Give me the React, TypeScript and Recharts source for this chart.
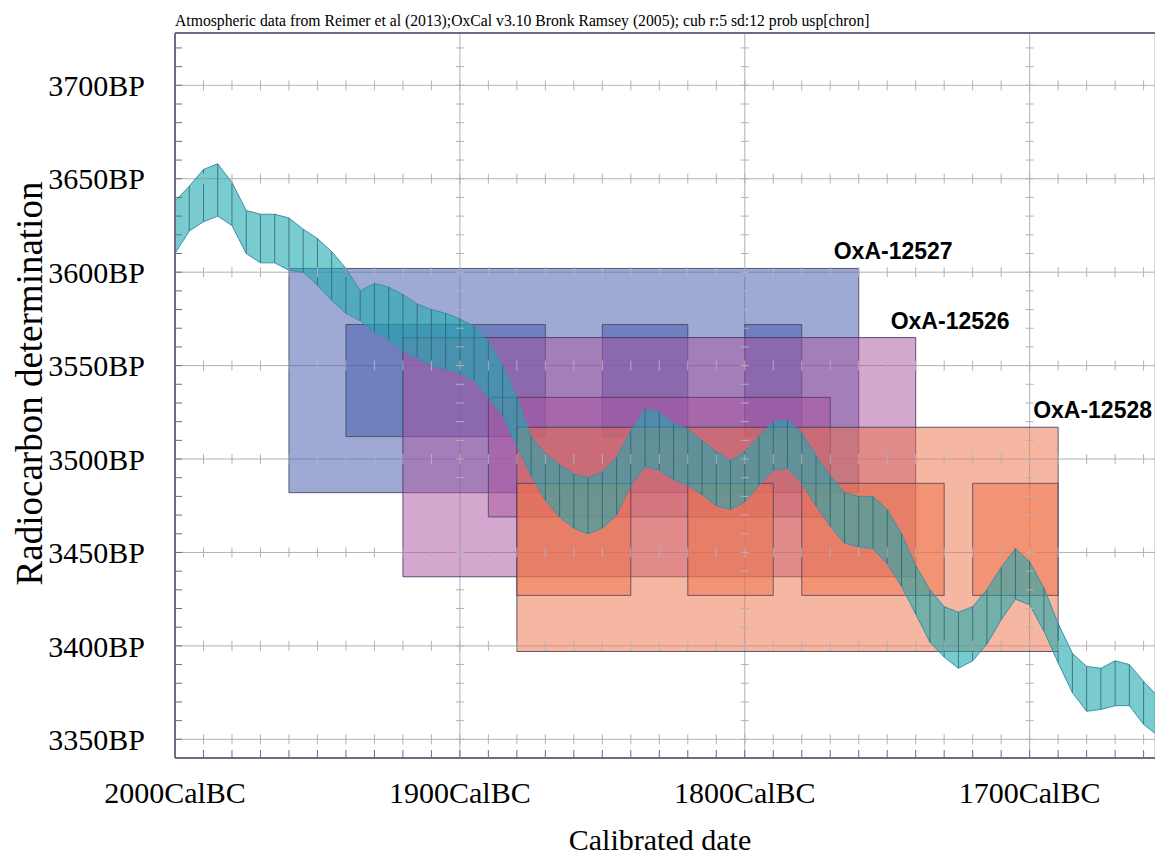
import { ComposedChart, Area, XAxis, YAxis, CartesianGrid, ReferenceArea, ReferenceLine, Scatter } from 'recharts'

const SERIF = "'Liberation Serif', 'Times New Roman', serif"
const SANS = "'Liberation Sans', Arial, sans-serif"

const TITLE = 'Atmospheric data from Reimer et al (2013);OxCal v3.10 Bronk Ramsey (2005); cub r:5 sd:12 prob usp[chron]'

// calibration curve, 5-year steps (cal BC), upper and lower edge in BP
const YEARS = [
  2000, 1995, 1990, 1985, 1980, 1975, 1970, 1965, 1960, 1955, 1950, 1945, 1940, 1935, 1930, 1925, 1920, 1915,
  1910, 1905, 1900, 1895, 1890, 1885, 1880, 1875, 1870, 1865, 1860, 1855, 1850, 1845, 1840, 1835, 1830, 1825,
  1820, 1815, 1810, 1805, 1800, 1795, 1790, 1785, 1780, 1775, 1770, 1765, 1760, 1755, 1750, 1745, 1740, 1735,
  1730, 1725, 1720, 1715, 1710, 1705, 1700, 1695, 1690, 1685, 1680, 1675, 1670, 1665, 1660, 1655,
]
const BAND_HI = [
  3638, 3646, 3655, 3658, 3648, 3633, 3631, 3631, 3629, 3623, 3618, 3611, 3602, 3590, 3594, 3592, 3588, 3583,
  3580, 3578, 3575, 3571, 3563, 3550, 3533, 3512, 3503, 3497, 3492, 3490, 3493, 3501, 3515, 3527, 3525, 3519,
  3516, 3510, 3504, 3499, 3504, 3512, 3520, 3521, 3514, 3502, 3491, 3482, 3480, 3480, 3473, 3460, 3443, 3430,
  3421, 3418, 3421, 3430, 3442, 3452, 3445, 3431, 3412, 3396, 3389, 3388, 3392, 3390, 3381, 3373,
]
const BAND_LO = [
  3610, 3622, 3627, 3630, 3625, 3610, 3605, 3605, 3601, 3600, 3593, 3585, 3578, 3574, 3568, 3564, 3558, 3554,
  3550, 3548, 3546, 3542, 3533, 3523, 3507, 3491, 3478, 3469, 3463, 3460, 3463, 3470, 3486, 3496, 3494, 3489,
  3486, 3481, 3475, 3473, 3477, 3486, 3494, 3495, 3487, 3475, 3464, 3455, 3453, 3452, 3444, 3432, 3417, 3402,
  3394, 3388, 3392, 3401, 3414, 3425, 3422, 3408, 3391, 3375, 3365, 3366, 3368, 3368, 3358, 3352,
]

// samples: 2 sigma boxes and 1 sigma boxes
const SAMPLE_NAMES = ['OxA-12527', 'OxA-12526', 'OxA-12528']
const SAMPLE_COLORS = ['#4055aa', '#a9519d', '#ed6f45']
const OUTER_BP = [[3482, 3602], [3437, 3565], [3397, 3517]]
const OUTER_CAL = [[1960, 1760], [1920, 1740], [1880, 1690]]
const INNER_BP = [[3512, 3572], [3469, 3533], [3427, 3487]]
const INNER_CAL = [
  [[1940, 1870], [1850, 1820], [1800, 1780]],
  [[1890, 1770]],
  [[1880, 1840], [1820, 1790], [1780, 1730], [1720, 1690]],
]

const X_MIN = 1656
const X_MAX = 2000
const Y_MIN = 3340
const Y_MAX = 3728
const X_TICKS = [2000, 1900, 1800, 1700]
const Y_TICKS = [3350, 3400, 3450, 3500, 3550, 3600, 3650, 3700]
const MINOR_YEARS = [
  1990, 1980, 1970, 1960, 1950, 1940, 1930, 1920, 1910, 1900, 1890, 1880, 1870, 1860, 1850, 1840, 1830,
  1820, 1810, 1800, 1790, 1780, 1770, 1760, 1750, 1740, 1730, 1720, 1710, 1700, 1690, 1680, 1670, 1660,
]
const MINOR_BP = [
  3350, 3360, 3370, 3380, 3390, 3400, 3410, 3420, 3430, 3440, 3450, 3460, 3470, 3480, 3490, 3500, 3510,
  3520, 3530, 3540, 3550, 3560, 3570, 3580, 3590, 3600, 3610, 3620, 3630, 3640, 3650, 3660, 3670, 3680,
  3690, 3700, 3710, 3720,
]

const bandData = YEARS.map((year, i) => ({ year, band: [BAND_LO[i], BAND_HI[i]] }))
const hGridMarks = Y_TICKS.flatMap(bp => MINOR_YEARS.map(year => ({ year, bp })))
const vGridMarks = X_TICKS.slice(1).flatMap(year => MINOR_BP.map(bp => ({ year, bp })))
const leftMarks = MINOR_BP.map(bp => ({ year: X_MAX, bp }))
const bottomMarks = MINOR_YEARS.map(year => ({ year, bp: Y_MIN }))

const GRID = '#b2b2b8'
const FRAME = '#6f6a86'

const mark = (dx1: number, dx2: number, dy1: number, dy2: number, color: string) => (p: any) => (
  <line x1={p.cx + dx1} x2={p.cx + dx2} y1={p.cy + dy1} y2={p.cy + dy2} stroke={color} strokeWidth={1} />
)

const boxLabel = (name: string) => (p: any) => {
  const vb = p.viewBox
  if (!vb) return null
  return (
    <text x={vb.x + vb.width - 25} y={vb.y - 9} fontFamily={SANS} fontWeight="bold" fontSize={23} fill="#000">
      {name}
    </text>
  )
}

// rotated y axis title
const yTitle = (p: any) => {
  const vb = p.viewBox
  if (!vb) return null
  const cx = vb.x + 29
  const cy = vb.y + vb.height / 2 - 12
  return (
    <text
      x={cx}
      y={cy}
      dy="0.35em"
      transform={`rotate(-90 ${cx} ${cy})`}
      textAnchor="middle"
      fontFamily={SERIF}
      fontSize={37}
      fill="#000"
    >
      Radiocarbon determination
    </text>
  )
}

export default function App() {
  return (
    <div style={{ position: 'absolute', left: 0, top: 0, width: 1155, height: 859, background: '#fff', overflow: 'hidden' }}>
      <div style={{ position: 'absolute', left: 175, top: 12, fontFamily: SERIF, fontSize: 15.7, color: '#000', whiteSpace: 'nowrap' }}>
        {TITLE}
      </div>
      <ComposedChart width={1155} height={859} data={bandData} margin={{ top: 33, right: 0, bottom: 0, left: 0 }}>
        <CartesianGrid stroke={GRID} strokeWidth={1} />
        <XAxis
          type="number"
          dataKey="year"
          domain={[X_MIN, X_MAX]}
          reversed
          allowDataOverflow
          ticks={X_TICKS}
          tickFormatter={v => `${v}CalBC`}
          height={101}
          tickLine={false}
          tickSize={0}
          tickMargin={24}
          axisLine={{ stroke: FRAME, strokeWidth: 2 }}
          tick={{ fill: '#000', fontSize: 30, fontFamily: SERIF }}
          label={{ value: 'Calibrated date', position: 'insideBottom', offset: 9, dx: -5, fill: '#000', fontSize: 30, fontFamily: SERIF }}
        />
        <YAxis
          type="number"
          domain={[Y_MIN, Y_MAX]}
          allowDataOverflow
          ticks={Y_TICKS}
          tickFormatter={v => `${v}BP`}
          width={175}
          tickLine={false}
          tickSize={0}
          tickMargin={30}
          axisLine={{ stroke: FRAME, strokeWidth: 2 }}
          tick={{ fill: '#000', fontSize: 30, fontFamily: SERIF }}
          label={yTitle}
        />
        <ReferenceLine y={Y_MAX} stroke={FRAME} strokeWidth={2} />

        <Scatter data={hGridMarks} dataKey="bp" isAnimationActive={false} shape={mark(0, 0, -5, 5, GRID)} />
        <Scatter data={vGridMarks} dataKey="bp" isAnimationActive={false} shape={mark(-4, 4, 0, 0, GRID)} />
        <Scatter data={leftMarks} dataKey="bp" isAnimationActive={false} shape={mark(0, 7, 0, 0, FRAME)} />
        <Scatter data={bottomMarks} dataKey="bp" isAnimationActive={false} shape={mark(0, 0, -8, 0, FRAME)} />

        {SAMPLE_NAMES.map((name, i) => [
          <ReferenceArea
            key={name}
            x1={OUTER_CAL[i][0]}
            x2={OUTER_CAL[i][1]}
            y1={OUTER_BP[i][0]}
            y2={OUTER_BP[i][1]}
            fill={SAMPLE_COLORS[i]}
            fillOpacity={0.5}
            stroke="#3a3358"
            strokeOpacity={0.8}
            strokeWidth={1}
            zIndex={100}
            label={boxLabel(name)}
          />,
          ...INNER_CAL[i].map(r => (
            <ReferenceArea
              key={`${name}-${r[0]}`}
              x1={r[0]}
              x2={r[1]}
              y1={INNER_BP[i][0]}
              y2={INNER_BP[i][1]}
              fill={SAMPLE_COLORS[i]}
              fillOpacity={0.5}
              stroke="#3a3358"
              strokeOpacity={0.7}
              strokeWidth={1}
              zIndex={100}
            />
          )),
        ])}

        <Area
          type="linear"
          dataKey="band"
          fill="#1eaaaf"
          fillOpacity={0.6}
          stroke="#3f8fa8"
          strokeWidth={1}
          dot={false}
          activeDot={false}
          isAnimationActive={false}
          zIndex={150}
        />
        {YEARS.map((year, i) => (
          <ReferenceLine
            key={`h${year}`}
            segment={[{ x: year, y: BAND_LO[i] }, { x: year, y: BAND_HI[i] }]}
            stroke="#2a5f6a"
            strokeOpacity={0.75}
            strokeWidth={1}
            zIndex={160}
          />
        ))}
      </ComposedChart>
    </div>
  )
}
